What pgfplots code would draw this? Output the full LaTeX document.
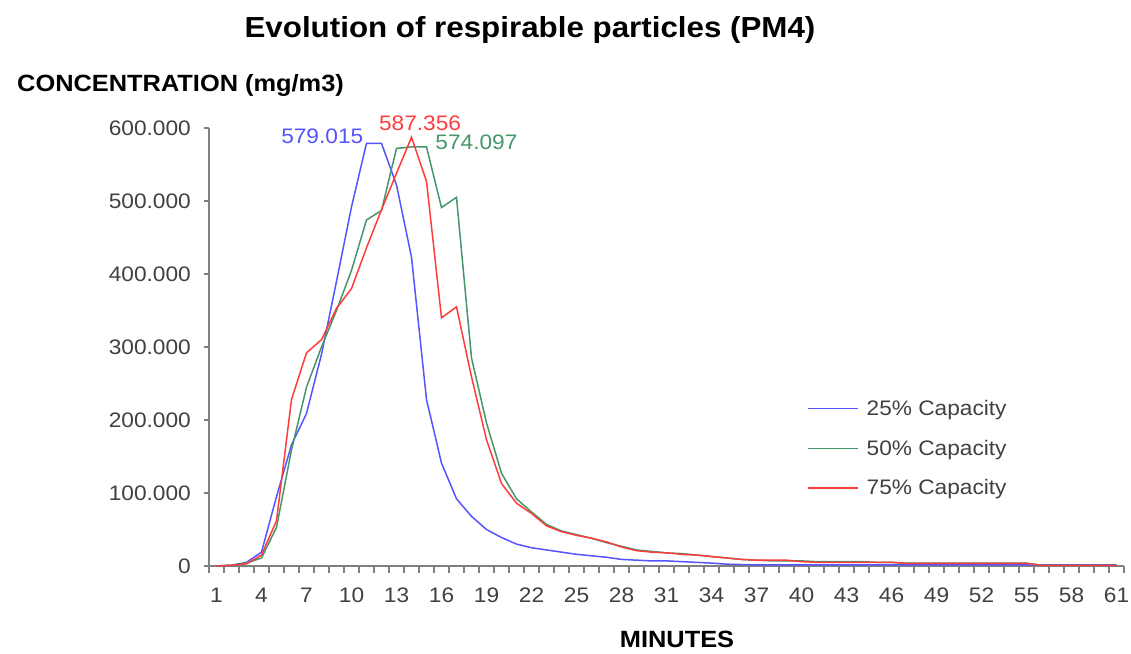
\documentclass[border=0pt]{standalone}
\usepackage{fontspec}
\setmainfont[FakeStretch=1.08]{Liberation Sans}
\usepackage{pgfplots}
\usepackage{pgfplotstable}
\pgfplotsset{compat=1.18}
\definecolor{cblue}{RGB}{85,85,255}
\definecolor{cgreen}{RGB}{70,150,105}
\definecolor{cred}{RGB}{255,60,60}
\definecolor{axgray}{RGB}{128,128,128}
\definecolor{txt}{RGB}{64,64,64}

\pgfplotstableread{
m b g r
1 0 0 0
2 1 1 1
3 5 4 3
4 19 11 15
5 95 53 62
6 166 159 228
7 209 245 292
8 290 300 310
9 390 350 353
10 492 405 380
11 579.015 474 436
12 579 487 488
13 522 572 538
14 423 574.097 587.356
15 228 574 527
16 141 491 340
17 92 505 355
18 68 285 259
19 50 196 173
20 39 127 113
21 30 92 86
22 25 74 72
23 22 57 55
24 19 48 47
25 16 43 42
26 14 38 38
27 12 32 33
28 9 27 26
29 8 22 21
30 7 20 19
31 7 18 18
32 6 17 16
33 5 15 15
34 4 13 13
35 2.5 11 11
36 2 9 9
37 1.5 8 8
38 1.5 7 8
39 1.5 7 8
40 1.5 7 6
41 1.5 6 5
42 1.5 6 5
43 1.5 6 5
44 1.5 6 5
45 1.5 5 5
46 1.5 5 5
47 1.5 4 3.5
48 1.5 4 3.5
49 1.5 4 3.5
50 1.5 4 3.5
51 1.5 4 3.5
52 1.5 4 3.5
53 1.5 4 3.5
54 1.5 4 3.5
55 1.5 4 3.5
56 1.5 1 1
57 1.5 1 1
58 1.5 1 1
59 1.5 1 1
60 1.5 1 1
61 1.5 1 1
}\datatable

\begin{document}
\begin{tikzpicture}[x=1pt,y=1pt]
\useasboundingbox (0,0) rectangle (1131,653);
\node[anchor=base, font=\fontsize{29}{29}\selectfont\bfseries] at (530,615) {Evolution of respirable particles (PM4)};
\node[anchor=base west, inner sep=0pt, font=\fontsize{23.5}{23.5}\selectfont\bfseries] at (17,561) {CONCENTRATION (mg/m3)};
\node[anchor=base, inner sep=0pt, font=\fontsize{23.5}{23.5}\selectfont\bfseries] at (677,6) {MINUTES};
\begin{axis}[
  at={(209pt,87pt)}, anchor=south west,
  width=915pt, height=438pt, scale only axis,
  xmin=0.5, xmax=61.5, ymin=0, ymax=600,
  axis x line*=bottom, axis y line*=left,
  axis line style={axgray, line width=1.3pt},
  clip=false,
  tick align=outside,
  xtick={1,4,...,61},
  xticklabels={1,4,7,10,13,16,19,22,25,28,31,34,37,40,43,46,49,52,55,58,61},
  major x tick style={draw=none},
  minor xtick={0.5,1.5,...,61.5},
  minor x tick style={axgray, line width=1.3pt},
  minor tick length=7pt,
  ytick={0,100,...,600},
  yticklabels={0,100.000,200.000,300.000,400.000,500.000,600.000},
  major y tick style={axgray, line width=1.3pt},
  major tick length=5pt,
  ticklabel style={font=\fontsize{21}{21}\selectfont, text=txt},
  yticklabel style={anchor=east, inner sep=0pt, xshift=-13pt},
  xticklabel style={anchor=north, inner sep=0pt, yshift=-17pt},
  legend style={at={(0.6535,0.381)}, anchor=north west, draw=none, fill=none,
    inner sep=0pt, row sep=21pt, column sep=7pt, font=\fontsize{21}{21}\selectfont, text=txt,
    nodes={inner sep=1pt}},
  legend cell align=left,
  legend image code/.code={\draw[#1, line width=1.5pt] (0pt,0pt) -- (50pt,0pt);},
]
\addplot[cblue, line width=1.5pt] table[x=m,y=b]{\datatable};
\addlegendentry{25\% Capacity}
\addplot[cgreen, line width=1.5pt] table[x=m,y=g]{\datatable};
\addlegendentry{50\% Capacity}
\addplot[cred, line width=1.5pt] table[x=m,y=r]{\datatable};
\addlegendentry{75\% Capacity}
\node[cblue, font=\fontsize{21}{21}\selectfont] at (axis cs:8.05,589) {579.015};
\node[cred, font=\fontsize{21}{21}\selectfont] at (axis cs:14.57,606.8) {587.356};
\node[cgreen, font=\fontsize{21}{21}\selectfont] at (axis cs:18.33,580.1) {574.097};
\end{axis}
\end{tikzpicture}
\end{document}
